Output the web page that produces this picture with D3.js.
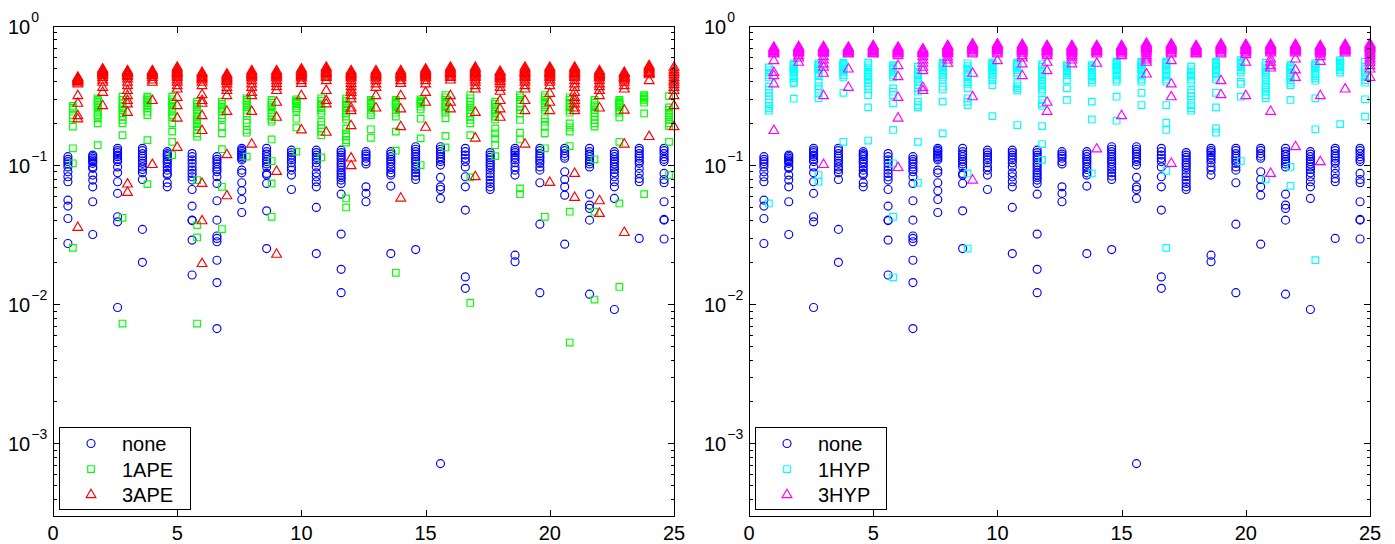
<!DOCTYPE html>
<html>
<head>
<meta charset="utf-8">
<script src="https://cdn.jsdelivr.net/npm/d3@7"></script>
<style>
  body { margin: 0; background: #fff; }
  text { font-family: "Liberation Sans", Arial, Helvetica, sans-serif; fill: #000; }
</style>
</head>
<body>
<svg id="chart" width="1395" height="544"></svg>
<script>
// Test cases 1..25; each case holds one error value per run.
const groups = [1,2,3,4,5,6,7,8,9,10,11,12,13,14,15,16,17,18,19,20,21,22,23,24,25];
const xTicks = [0, 5, 10, 15, 20, 25];
const yDecades = [1e-3, 1e-2, 1e-1, 1];
const yDomain = [3e-4, 1];
const xDomain = [0, 25];

// Horizontal placement of each method inside a case (case index + shift)
const shiftNone = -0.4, shiftOne = -0.2, shiftThree = 0;

const noneErr = [
  [0.115,0.110,0.106,0.102,0.097,0.0895,0.0824,0.0759,0.056,0.0507,0.0413,0.0273],
  [0.118,0.115,0.112,0.109,0.106,0.103,0.097,0.0947,0.0848,0.078,0.0698,0.0545,0.0317],
  [0.132,0.127,0.123,0.118,0.115,0.110,0.106,0.097,0.088,0.0759,0.0626,0.0425,0.0391,0.00946],
  [0.132,0.127,0.121,0.116,0.112,0.107,0.103,0.097,0.093,0.088,0.0788,0.0345,0.0200],
  [0.125,0.121,0.118,0.115,0.110,0.106,0.102,0.097,0.092,0.0871,0.0848,0.0746,0.0698],
  [0.121,0.115,0.109,0.103,0.097,0.092,0.0871,0.0824,0.078,0.0668,0.0507,0.0402,0.0399,0.0289,0.0162],
  [0.115,0.110,0.106,0.102,0.097,0.093,0.0895,0.0824,0.0738,0.0554,0.0402,0.0309,0.0297,0.0281,0.0207,0.0143,0.00668],
  [0.132,0.128,0.125,0.121,0.118,0.115,0.112,0.109,0.092,0.088,0.0746,0.0654,0.0566,0.0456],
  [0.132,0.125,0.120,0.115,0.110,0.106,0.102,0.097,0.0871,0.0848,0.0738,0.0469,0.0251],
  [0.128,0.123,0.118,0.1135,0.109,0.104,0.097,0.092,0.0848,0.0668],
  [0.128,0.123,0.118,0.1135,0.109,0.104,0.097,0.088,0.0824,0.0759,0.0698,0.0496,0.0231],
  [0.128,0.123,0.118,0.1135,0.109,0.104,0.100,0.0962,0.092,0.088,0.0848,0.0815,0.078,0.0738,0.0618,0.0319,0.0178,0.0121],
  [0.125,0.120,0.116,0.112,0.106,0.102,0.0698,0.0626,0.0545],
  [0.125,0.120,0.115,0.110,0.106,0.102,0.097,0.093,0.088,0.0848,0.0706,0.0231],
  [0.1355,0.130,0.125,0.120,0.115,0.110,0.106,0.102,0.097,0.093,0.088,0.0834,0.0788,0.0247],
  [0.1355,0.130,0.125,0.120,0.115,0.110,0.106,0.100,0.0815,0.0698,0.0668,0.0576,0.000714],
  [0.132,0.125,0.118,0.112,0.106,0.097,0.0824,0.0698,0.0475,0.0157,0.0130],
  [0.123,0.118,0.1135,0.109,0.104,0.100,0.0962,0.092,0.0871,0.0824,0.078,0.0738,0.0698,0.0668],
  [0.132,0.127,0.123,0.118,0.1135,0.109,0.104,0.097,0.092,0.0848,0.0225,0.0202],
  [0.132,0.127,0.121,0.116,0.112,0.107,0.103,0.097,0.092,0.0746,0.0376,0.0121],
  [0.132,0.127,0.121,0.116,0.112,0.0895,0.0788,0.0698,0.0608,0.0270],
  [0.132,0.125,0.120,0.115,0.110,0.106,0.102,0.097,0.0618,0.0516,0.0488,0.0402,0.0118],
  [0.125,0.120,0.115,0.110,0.106,0.102,0.097,0.093,0.088,0.0824,0.0759,0.0698,0.0576,0.00916],
  [0.132,0.127,0.121,0.116,0.112,0.107,0.103,0.0947,0.0871,0.0802,0.0759,0.0297],
  [0.132,0.127,0.121,0.115,0.110,0.106,0.0871,0.0788,0.0746,0.0545,0.0407,0.0402,0.0294]
];

const ape1Err = [
  [0.266,0.258,0.251,0.229,0.217,0.189,0.132,0.103,0.0254],
  [0.302,0.294,0.286,0.278,0.270,0.260,0.249,0.238,0.229,0.217,0.1995,0.139],
  [0.310,0.294,0.278,0.266,0.256,0.246,0.235,0.223,0.211,0.1995,0.164,0.0418,0.00726],
  [0.310,0.302,0.294,0.286,0.278,0.266,0.256,0.242,0.229,0.151,0.073],
  [0.310,0.297,0.286,0.275,0.263,0.251,0.242,0.229,0.220,0.1995,0.174,0.147,0.118],
  [0.286,0.275,0.263,0.251,0.242,0.233,0.223,0.213,0.205,0.197,0.189,0.179,0.169,0.160,0.078,0.037,0.0302,0.00726],
  [0.286,0.275,0.263,0.251,0.242,0.229,0.217,0.189,0.169,0.130,0.0698,0.0347],
  [0.302,0.294,0.286,0.278,0.270,0.260,0.249,0.235,0.211,0.2017,0.179,0.171,0.115],
  [0.294,0.281,0.270,0.260,0.249,0.238,0.223,0.213,0.205,0.153,0.107,0.0738,0.0425],
  [0.297,0.291,0.286,0.280,0.275,0.266,0.256,0.246,0.2155,0.1866,0.125],
  [0.302,0.290,0.278,0.266,0.256,0.246,0.235,0.205,0.194,0.1835,0.174,0.164,0.1135],
  [0.302,0.290,0.278,0.266,0.256,0.246,0.235,0.223,0.213,0.1835,0.169,0.160,0.151,0.145,0.0576,0.0496],
  [0.294,0.287,0.281,0.275,0.270,0.260,0.249,0.238,0.229,0.181,0.157],
  [0.294,0.287,0.281,0.275,0.270,0.260,0.249,0.238,0.223,0.174,0.127,0.0168],
  [0.297,0.291,0.286,0.280,0.275,0.263,0.251,0.2155,0.1556,0.100],
  [0.319,0.307,0.294,0.281,0.270,0.260,0.249,0.238,0.217,0.162,0.134],
  [0.319,0.302,0.286,0.270,0.260,0.249,0.235,0.223,0.211,0.1995,0.164,0.0815,0.0102],
  [0.286,0.275,0.263,0.251,0.242,0.233,0.223,0.213,0.1835,0.169,0.1556,0.139,0.116],
  [0.319,0.307,0.294,0.278,0.263,0.249,0.235,0.211,0.171,0.153,0.068,0.0618],
  [0.319,0.307,0.294,0.281,0.270,0.260,0.249,0.217,0.205,0.191,0.169,0.132,0.0425],
  [0.307,0.294,0.281,0.270,0.260,0.249,0.238,0.1995,0.1866,0.174,0.137,0.0462,0.0053],
  [0.294,0.281,0.270,0.260,0.249,0.238,0.223,0.211,0.1995,0.189,0.110,0.0462,0.0108],
  [0.294,0.287,0.281,0.275,0.270,0.260,0.249,0.238,0.220,0.147,0.053,0.0133],
  [0.319,0.313,0.307,0.300,0.294,0.281,0.235,0.0618],
  [0.313,0.260,0.249,0.238,0.229,0.220,0.211,0.1995,0.191,0.147,0.0848]
];

const ape3Err = [
  [0.432,0.427,0.422,0.418,0.413,0.409,0.403,0.398,0.387,0.319,0.281,0.229,0.217,0.036],
  [0.496,0.489,0.482,0.475,0.469,0.462,0.456,0.450,0.444,0.432,0.413,0.398,0.366,0.337,0.270],
  [0.482,0.475,0.469,0.462,0.456,0.446,0.437,0.421,0.398,0.376,0.347,0.319,0.294,0.278,0.242,0.0738,0.0643],
  [0.482,0.475,0.469,0.462,0.456,0.450,0.444,0.432,0.413,0.398,0.294,0.102],
  [0.510,0.499,0.488,0.478,0.469,0.460,0.451,0.441,0.432,0.413,0.398,0.376,0.356,0.310,0.270,0.220,0.1355],
  [0.469,0.460,0.451,0.441,0.432,0.422,0.413,0.398,0.376,0.324,0.294,0.281,0.229,0.179,0.0746,0.0402,0.0198],
  [0.456,0.446,0.437,0.429,0.421,0.412,0.404,0.387,0.366,0.347,0.319,0.246,0.120,0.0608],
  [0.482,0.472,0.462,0.453,0.444,0.435,0.427,0.409,0.387,0.366,0.337,0.319,0.246,0.143],
  [0.482,0.472,0.462,0.453,0.444,0.435,0.427,0.409,0.391,0.370,0.347,0.286,0.223,0.091,0.0231],
  [0.496,0.486,0.477,0.469,0.462,0.453,0.444,0.435,0.427,0.409,0.391,0.319,0.181],
  [0.510,0.499,0.488,0.478,0.469,0.460,0.451,0.441,0.432,0.409,0.347,0.294,0.278,0.174],
  [0.482,0.472,0.462,0.453,0.444,0.435,0.427,0.409,0.391,0.370,0.350,0.337,0.319,0.302,0.260,0.249,0.194,0.1135,0.100],
  [0.482,0.472,0.462,0.453,0.444,0.435,0.427,0.409,0.387,0.366,0.319,0.260],
  [0.482,0.472,0.462,0.453,0.444,0.435,0.427,0.409,0.391,0.319,0.256,0.191,0.0585],
  [0.496,0.486,0.477,0.469,0.462,0.453,0.444,0.435,0.427,0.409,0.387,0.337,0.286,0.189],
  [0.510,0.499,0.488,0.478,0.469,0.460,0.451,0.441,0.432,0.413,0.319,0.286,0.256],
  [0.510,0.499,0.488,0.478,0.469,0.460,0.451,0.441,0.432,0.413,0.398,0.376,0.356,0.242,0.158,0.0834],
  [0.477,0.466,0.456,0.446,0.437,0.429,0.421,0.404,0.387,0.366,0.343,0.294,0.256,0.223],
  [0.510,0.499,0.488,0.478,0.469,0.460,0.451,0.441,0.432,0.413,0.398,0.376,0.356,0.294,0.249,0.143],
  [0.510,0.499,0.488,0.478,0.469,0.460,0.451,0.441,0.432,0.413,0.398,0.376,0.331,0.286,0.249,0.0759],
  [0.510,0.499,0.488,0.478,0.469,0.460,0.451,0.441,0.432,0.409,0.387,0.366,0.337,0.310,0.294,0.278,0.260,0.249,0.088,0.0592],
  [0.482,0.472,0.462,0.453,0.444,0.435,0.427,0.409,0.387,0.370,0.347,0.319,0.260,0.056,0.0454],
  [0.469,0.460,0.451,0.441,0.432,0.422,0.413,0.398,0.376,0.356,0.251,0.143,0.0331],
  [0.524,0.514,0.504,0.496,0.488,0.478,0.469,0.460,0.451,0.409,0.162],
  [0.510,0.488,0.469,0.451,0.432,0.413,0.398,0.383,0.366,0.347,0.319,0.270,0.191]
];

const hyp1Err = [
  [0.504,0.482,0.462,0.444,0.427,0.366,0.347,0.331,0.313,0.297,0.281,0.266,0.256,0.246,0.053],
  [0.539,0.527,0.515,0.505,0.496,0.486,0.477,0.466,0.456,0.437,0.421,0.398,0.387,0.300],
  [0.539,0.527,0.515,0.505,0.496,0.486,0.477,0.456,0.437,0.398,0.370,0.350,0.328,0.302,0.0848,0.0759],
  [0.545,0.534,0.524,0.514,0.504,0.493,0.482,0.462,0.444,0.427,0.331,0.147],
  [0.545,0.524,0.504,0.482,0.462,0.444,0.427,0.409,0.391,0.370,0.350,0.319,0.260,0.150],
  [0.524,0.514,0.504,0.493,0.482,0.462,0.444,0.427,0.356,0.337,0.319,0.278,0.179,0.103,0.0425,0.0156],
  [0.510,0.488,0.469,0.451,0.432,0.413,0.398,0.376,0.356,0.337,0.286,0.270,0.260,0.147,0.0746],
  [0.545,0.534,0.524,0.514,0.504,0.482,0.462,0.444,0.427,0.409,0.366,0.350,0.286,0.169],
  [0.539,0.515,0.496,0.477,0.456,0.437,0.413,0.398,0.383,0.356,0.302,0.286,0.270,0.0871,0.0251],
  [0.545,0.534,0.524,0.514,0.504,0.493,0.482,0.462,0.444,0.427,0.409,0.376,0.225],
  [0.545,0.534,0.524,0.514,0.504,0.482,0.462,0.444,0.387,0.370,0.356,0.343,0.194],
  [0.533,0.510,0.488,0.469,0.451,0.432,0.413,0.398,0.383,0.366,0.350,0.337,0.294,0.278,0.266,0.191,0.1416,0.109],
  [0.524,0.514,0.504,0.493,0.482,0.472,0.462,0.444,0.409,0.356,0.294],
  [0.524,0.514,0.504,0.493,0.482,0.462,0.444,0.427,0.409,0.391,0.286,0.213,0.0871],
  [0.554,0.543,0.533,0.521,0.510,0.499,0.488,0.469,0.451,0.432,0.413,0.398,0.310,0.2085],
  [0.554,0.543,0.533,0.521,0.510,0.499,0.488,0.469,0.451,0.432,0.413,0.398,0.331,0.270],
  [0.554,0.543,0.533,0.521,0.510,0.488,0.469,0.451,0.432,0.413,0.398,0.270,0.2017,0.179,0.091,0.0254],
  [0.510,0.488,0.469,0.451,0.432,0.413,0.398,0.347,0.331,0.313,0.294,0.270,0.256,0.246],
  [0.554,0.543,0.533,0.521,0.510,0.488,0.469,0.451,0.432,0.413,0.331,0.260,0.1835,0.171],
  [0.569,0.557,0.545,0.534,0.524,0.504,0.482,0.462,0.398,0.383,0.310,0.107],
  [0.545,0.524,0.504,0.482,0.462,0.444,0.427,0.409,0.376,0.362,0.350,0.337,0.319,0.302,0.0788],
  [0.524,0.514,0.504,0.493,0.482,0.462,0.444,0.427,0.409,0.391,0.376,0.294,0.097,0.071],
  [0.539,0.527,0.515,0.505,0.496,0.477,0.456,0.437,0.421,0.404,0.302,0.181,0.0207],
  [0.569,0.557,0.545,0.534,0.524,0.514,0.504,0.482,0.462,0.197],
  [0.554,0.510,0.482,0.462,0.444,0.427,0.409,0.391,0.297,0.223]
];

const hyp3Err = [
  [0.710,0.700,0.690,0.681,0.672,0.663,0.654,0.645,0.636,0.569,0.469,0.444,0.387,0.179],
  [0.718,0.708,0.698,0.689,0.680,0.670,0.661,0.652,0.643,0.618,0.595,0.554],
  [0.718,0.708,0.698,0.689,0.680,0.670,0.661,0.652,0.643,0.608,0.575,0.539,0.510,0.462,0.319,0.102],
  [0.710,0.700,0.690,0.681,0.672,0.663,0.654,0.645,0.636,0.496,0.366],
  [0.730,0.720,0.710,0.700,0.690,0.681,0.672,0.663,0.654,0.645,0.636],
  [0.710,0.700,0.690,0.681,0.672,0.663,0.654,0.645,0.636,0.618,0.524,0.437,0.310,0.220,0.097],
  [0.690,0.681,0.672,0.663,0.654,0.645,0.636,0.608,0.575,0.545,0.510,0.482,0.366,0.347],
  [0.730,0.720,0.710,0.700,0.690,0.681,0.672,0.663,0.654,0.645,0.636,0.602,0.575,0.545],
  [0.750,0.740,0.730,0.720,0.710,0.700,0.690,0.681,0.672,0.654,0.636,0.462,0.313,0.0788],
  [0.750,0.740,0.730,0.720,0.710,0.700,0.690,0.681,0.672,0.654,0.636,0.569],
  [0.743,0.730,0.718,0.708,0.698,0.689,0.680,0.670,0.661,0.643,0.618,0.595,0.539,0.444],
  [0.730,0.720,0.710,0.700,0.690,0.681,0.672,0.663,0.654,0.636,0.618,0.554,0.482,0.286,0.246],
  [0.730,0.720,0.710,0.700,0.690,0.681,0.672,0.663,0.654,0.636,0.618,0.602,0.575,0.539],
  [0.730,0.720,0.710,0.700,0.690,0.681,0.672,0.663,0.654,0.636,0.545,0.132],
  [0.730,0.720,0.710,0.700,0.690,0.681,0.672,0.663,0.654,0.636,0.618,0.229],
  [0.759,0.748,0.738,0.728,0.718,0.708,0.698,0.689,0.680,0.661,0.643,0.618,0.595,0.575,0.554,0.456],
  [0.750,0.740,0.730,0.720,0.710,0.700,0.690,0.681,0.672,0.654,0.636,0.569,0.387,0.313,0.104],
  [0.730,0.720,0.710,0.700,0.690,0.681,0.672,0.663,0.654,0.645,0.636],
  [0.750,0.740,0.730,0.720,0.710,0.700,0.690,0.681,0.672,0.654,0.636,0.409,0.324],
  [0.743,0.733,0.722,0.712,0.702,0.692,0.683,0.674,0.665,0.647,0.629,0.554,0.319],
  [0.743,0.733,0.722,0.712,0.702,0.692,0.683,0.674,0.665,0.647,0.585,0.554,0.524,0.504,0.246,0.088],
  [0.743,0.733,0.722,0.712,0.702,0.692,0.683,0.674,0.665,0.647,0.585,0.488,0.432,0.137],
  [0.730,0.720,0.710,0.700,0.690,0.681,0.672,0.663,0.654,0.636,0.608,0.563,0.319,0.107],
  [0.743,0.733,0.722,0.712,0.702,0.692,0.683,0.674,0.665,0.647,0.356],
  [0.750,0.740,0.730,0.720,0.710,0.700,0.690,0.672,0.654,0.636,0.618,0.595,0.575,0.554,0.524,0.496,0.432]
];

// ---- layout ----
const W = 1395, H = 544;
const plotTop = 26, plotBottom = 516, plotWidth = 621;
const panels = [
  { left: 53, series: [
    { label: "none", values: noneErr, shift: shiftNone, color: "#0000ff", shape: "circle" },
    { label: "1APE", values: ape1Err, shift: shiftOne, color: "#00ff00", shape: "square" },
    { label: "3APE", values: ape3Err, shift: shiftThree, color: "#ff0000", shape: "triangle" }
  ]},
  { left: 749, series: [
    { label: "none", values: noneErr, shift: shiftNone, color: "#0000ff", shape: "circle" },
    { label: "1HYP", values: hyp1Err, shift: shiftOne, color: "#00ffff", shape: "square" },
    { label: "3HYP", values: hyp3Err, shift: shiftThree, color: "#ff00ff", shape: "triangle" }
  ]}
];

const shapes = {
  circle: "M-4,0A4,4 0 1,0 4,0A4,4 0 1,0 -4,0Z",
  square: "M-3.3,-3.3H3.3V3.3H-3.3Z",
  triangle: "M0,-4.8L4.9,3.6L-4.9,3.6Z"
};

const svg = d3.select("#chart");
svg.append("rect").attr("width", W).attr("height", H).attr("fill", "#fff");

const y = d3.scaleLog().domain(yDomain).range([plotBottom, plotTop]);

// minor log ticks: 2..9 within each decade inside the domain
const minorTicks = [];
[1e-4, 1e-3, 1e-2, 1e-1].forEach(d => {
  for (let m = 2; m <= 9; m++) {
    const v = m * d;
    if (v > yDomain[0] * 0.999 && v < yDomain[1]) minorTicks.push(v);
  }
});

panels.forEach(p => {
  const x = d3.scaleLinear().domain(xDomain).range([p.left, p.left + plotWidth]);
  const g = svg.append("g");
  const right = p.left + plotWidth;

  // scatter marks, one layer per method
  p.series.forEach(s => {
    const pts = [];
    s.values.forEach((vals, i) => {
      vals.forEach(v => pts.push({ x: groups[i] + s.shift, v }));
    });
    g.append("g").selectAll("path").data(pts).join("path")
      .attr("d", shapes[s.shape])
      .attr("transform", d => `translate(${x(d.x)},${y(d.v)})`)
      .attr("fill", "none")
      .attr("stroke", s.color)
      .attr("stroke-width", 1.15);
  });

  // frame and ticks
  const axis = g.append("g").attr("stroke", "#000").attr("stroke-width", 1)
    .attr("shape-rendering", "crispEdges");
  axis.append("rect")
    .attr("x", p.left + 0.5).attr("y", plotTop + 0.5)
    .attr("width", plotWidth).attr("height", plotBottom - plotTop)
    .attr("fill", "none");

  xTicks.forEach(t => {
    const xx = Math.round(x(t)) + 0.5;
    axis.append("line").attr("x1", xx).attr("x2", xx)
      .attr("y1", plotBottom + 0.5).attr("y2", plotBottom + 0.5 - 6.5);
    axis.append("line").attr("x1", xx).attr("x2", xx)
      .attr("y1", plotTop + 0.5).attr("y2", plotTop + 0.5 + 6.5);
  });
  const yTick = (v, len) => {
    const yy = Math.round(y(v)) + 0.5;
    axis.append("line").attr("x1", p.left + 0.5).attr("x2", p.left + 0.5 + len)
      .attr("y1", yy).attr("y2", yy);
    axis.append("line").attr("x1", right + 0.5).attr("x2", right + 0.5 - len)
      .attr("y1", yy).attr("y2", yy);
  };
  yDecades.forEach(v => yTick(v, 6.5));
  minorTicks.forEach(v => yTick(v, 3.5));

  // x tick labels
  g.append("g").selectAll("text").data(xTicks).join("text")
    .attr("x", d => x(d)).attr("y", 540)
    .attr("text-anchor", "middle")
    .attr("font-size", 20)
    .text(d => d);

  // y tick labels as powers of ten
  yDecades.forEach(v => {
    const e = Math.round(Math.log10(v));
    const t = g.append("text")
      .attr("x", p.left - 45).attr("y", y(v) + 7.5)
      .attr("font-size", 20);
    t.append("tspan").text("10");
    t.append("tspan").attr("dx", 1).attr("dy", -12).attr("font-size", 14)
      .text(e < 0 ? "\u2212" + (-e) : String(e));
  });

  // legend
  const lg = g.append("g");
  const bx = p.left + 6.5, by = 427.5, bw = 131, bh = 82;
  lg.append("rect").attr("x", bx).attr("y", by).attr("width", bw).attr("height", bh)
    .attr("fill", "#fff").attr("stroke", "#000").attr("stroke-width", 1)
    .attr("shape-rendering", "crispEdges");
  const rows = [443.5, 469, 494];
  p.series.forEach((s, i) => {
    lg.append("path").attr("d", shapes[s.shape])
      .attr("transform", `translate(${p.left + 38},${rows[i]})`)
      .attr("fill", "none").attr("stroke", s.color).attr("stroke-width", 1.15);
    lg.append("text").attr("x", p.left + 69).attr("y", rows[i] + 7.5)
      .attr("font-size", 20).text(s.label);
  });
});
</script>
</body>
</html>
